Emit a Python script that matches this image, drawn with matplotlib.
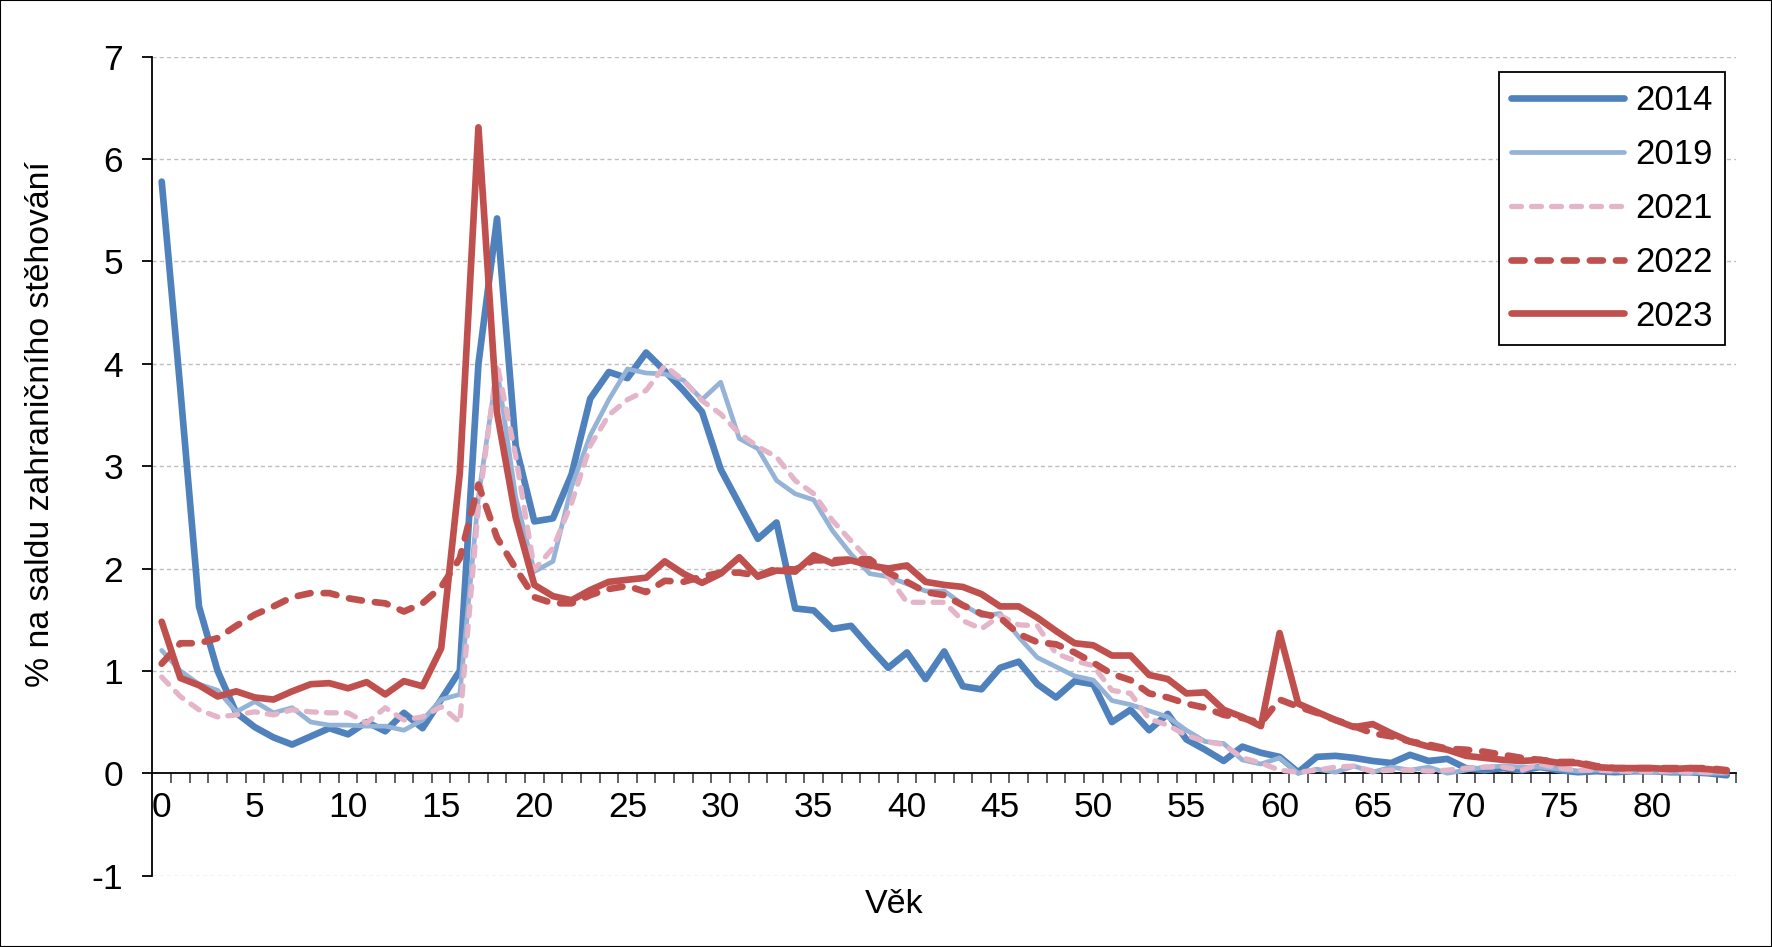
import numpy as np
import matplotlib
matplotlib.use("Agg")
import matplotlib.pyplot as plt
from matplotlib.patches import Rectangle

plt.rcParams['font.family'] = ['Liberation Sans', 'DejaVu Sans']
plt.rcParams['lines.scale_dashes'] = False
plt.rcParams['axes.unicode_minus'] = False

# 1. data: share (%) of the net foreign migration by age
ages = list(range(0, 85))
years = ['2014', '2019', '2021', '2022', '2023']

y2014 = [5.78, 3.75, 1.63, 1.0, 0.59, 0.45, 0.35, 0.28, 0.36, 0.44, 0.38, 0.5, 0.41, 0.59, 0.44, 0.72, 1.0,
         4.0, 5.42, 3.2, 2.46, 2.49, 2.92, 3.66, 3.92, 3.86, 4.11, 3.93, 3.74, 3.53,
         2.97, 2.63, 2.29, 2.45, 1.61, 1.59, 1.41, 1.44, 1.23, 1.03,
         1.18, 0.92, 1.19, 0.85, 0.82, 1.03, 1.09, 0.87, 0.74, 0.9,
         0.87, 0.5, 0.62, 0.42, 0.58, 0.33, 0.23, 0.12, 0.26, 0.2,
         0.16, 0.01, 0.16, 0.17, 0.15, 0.12, 0.1, 0.18, 0.12, 0.14,
         0.05, 0.03, 0.05, 0.03, 0.06, 0.03, 0.01, 0.02, 0.01, 0.02,
         0.02, 0.01, 0.01, 0.0, -0.02]
y2019 = [1.2, 1.0, 0.87, 0.81, 0.6, 0.7, 0.59, 0.64, 0.5, 0.47, 0.47, 0.46, 0.46, 0.42, 0.52, 0.72, 0.77,
         2.7, 3.95, 2.7, 1.97, 2.07, 2.8, 3.3, 3.65, 3.95, 3.91, 3.9, 3.84, 3.65,
         3.82, 3.27, 3.17, 2.86, 2.73, 2.67, 2.37, 2.14, 1.95, 1.92,
         1.85, 1.78, 1.78, 1.65, 1.54, 1.56, 1.33, 1.13, 1.04, 0.95,
         0.91, 0.71, 0.67, 0.61, 0.55, 0.42, 0.31, 0.29, 0.13, 0.09,
         0.15, 0.0, 0.04, 0.01, 0.07, 0.01, 0.06, 0.03, 0.06, 0.0,
         0.03, 0.06, 0.07, 0.06, 0.06, 0.04, 0.02, 0.03, 0.02, 0.02,
         0.01, 0.01, 0.01, 0.0, 0.0]
y2021 = [0.94, 0.75, 0.62, 0.55, 0.57, 0.6, 0.57, 0.62, 0.6, 0.59, 0.59, 0.49, 0.64, 0.52, 0.55, 0.65, 0.5,
         2.6, 4.0, 3.1, 1.99, 2.2, 2.64, 3.2, 3.5, 3.65, 3.74, 3.98, 3.84, 3.64,
         3.51, 3.32, 3.19, 3.09, 2.86, 2.73, 2.47, 2.27, 2.08, 1.92,
         1.67, 1.67, 1.67, 1.49, 1.41, 1.54, 1.45, 1.44, 1.17, 1.1,
         1.05, 0.81, 0.78, 0.53, 0.47, 0.37, 0.31, 0.28, 0.15, 0.1,
         0.03, 0.01, 0.03, 0.06, 0.07, 0.02, 0.03, 0.03, 0.02, 0.03,
         0.05, 0.06, 0.06, 0.03, 0.09, 0.05, 0.03, 0.03, 0.02, 0.02,
         0.02, 0.02, 0.01, 0.01, 0.01]
y2022 = [1.07, 1.27, 1.27, 1.32, 1.44, 1.55, 1.63, 1.72, 1.76, 1.76, 1.71, 1.68, 1.66, 1.58, 1.66, 1.82, 2.1,
         2.82, 2.3, 2.0, 1.72, 1.66, 1.66, 1.74, 1.8, 1.83, 1.77, 1.88, 1.87, 1.92,
         1.96, 1.96, 1.93, 2.0, 1.99, 2.08, 2.08, 2.09, 2.09, 1.96,
         1.87, 1.77, 1.74, 1.64, 1.56, 1.52, 1.36, 1.28, 1.26, 1.18,
         1.08, 0.97, 0.91, 0.78, 0.74, 0.68, 0.64, 0.57, 0.54, 0.49,
         0.72, 0.65, 0.59, 0.52, 0.46, 0.39, 0.36, 0.31, 0.28, 0.24,
         0.23, 0.21, 0.18, 0.15, 0.13, 0.11, 0.11, 0.07, 0.05, 0.05,
         0.05, 0.05, 0.05, 0.05, 0.03]
y2023 = [1.48, 0.93, 0.86, 0.75, 0.8, 0.74, 0.72, 0.8, 0.87, 0.88, 0.83, 0.89, 0.77, 0.9, 0.85, 1.22, 2.93,
         6.31, 3.52, 2.5, 1.84, 1.73, 1.69, 1.79, 1.87, 1.89, 1.91, 2.07, 1.95, 1.86,
         1.95, 2.11, 1.92, 1.98, 1.97, 2.13, 2.05, 2.08, 2.03, 2.0,
         2.03, 1.87, 1.84, 1.82, 1.75, 1.63, 1.63, 1.52, 1.39, 1.27,
         1.25, 1.15, 1.15, 0.96, 0.92, 0.78, 0.79, 0.62, 0.55, 0.46,
         1.37, 0.68, 0.6, 0.52, 0.45, 0.48, 0.39, 0.31, 0.26, 0.23,
         0.17, 0.15, 0.13, 0.12, 0.13, 0.1, 0.1, 0.06, 0.05, 0.05,
         0.05, 0.04, 0.05, 0.04, 0.02]

x_labels = [str(a) for a in range(0, 81, 5)]
y_ticks = list(range(-1, 8))

# 2. figure (1772 x 947 px)
fig = plt.figure(figsize=(17.72, 9.47), dpi=100)
fig.patches.append(Rectangle((0, 0), 1, 1, transform=fig.transFigure, fill=False,
                             edgecolor='black', linewidth=1.5, zorder=10))
ax = fig.add_axes([0.0860, 0.0754, 0.8937, 0.8647])

# series styles (Excel-like)
styles = {
    '2014': dict(color='#4F81BD', lw=4.8, dashes=None),
    '2019': dict(color='#95B3D7', lw=3.4, dashes=None),
    '2021': dict(color='#E4B4C8', lw=3.8, dashes=(7.2, 7.2)),
    '2022': dict(color='#C0504D', lw=4.8, dashes=(9.4, 9.4)),
    '2023': dict(color='#C0504D', lw=4.8, dashes=None),
}
series = {'2014': y2014, '2019': y2019, '2021': y2021, '2022': y2022, '2023': y2023}

for yr in years:
    st = styles[yr]
    line, = ax.plot(ages, series[yr], color=st['color'], lw=st['lw'], label=yr,
                    solid_capstyle='round', dash_capstyle='round',
                    solid_joinstyle='round', dash_joinstyle='round', zorder=3)
    if st['dashes'] is not None:
        line.set_dashes(st['dashes'])

# 3. axes
ax.set_xlim(-0.5, 84.5)
ax.set_ylim(-1, 7)
ax.spines['top'].set_visible(False)
ax.spines['right'].set_visible(False)
ax.spines['bottom'].set_position(('data', 0))
ax.spines['bottom'].set_linewidth(1.3)
ax.spines['left'].set_linewidth(1.3)

ax.set_xticks(range(0, 81, 5))
ax.set_xticklabels(x_labels)
ax.set_xticks(np.arange(0.5, 84.6, 1), minor=True)
ax.tick_params(axis='x', which='major', length=0, pad=12.5, labelsize=25.5)
ax.tick_params(axis='x', which='minor', length=7.2, width=1.3, color='#555555', direction='out')

ax.set_yticks(y_ticks)
ax.tick_params(axis='y', which='major', length=7.2, width=1.3, direction='out', pad=14, labelsize=25.5)

for yv in y_ticks:
    if yv != 0:
        ax.axhline(yv, color='#BFBFBF', lw=1.0, linestyle=(0, (3, 2.2)), zorder=1)

# axis titles
fig.text(894 / 1772, 1 - 904 / 947, 'Věk', ha='center', va='center', fontsize=24.5)
fig.text(41 / 1772, 1 - 424 / 947, '% na saldu zahraničního stěhování', ha='center', va='center',
         rotation=90, fontsize=24.3)

# legend
leg = ax.legend(loc='upper right', bbox_to_anchor=(1725 / 1772, 1 - 71.7 / 947),
                bbox_transform=fig.transFigure, fontsize=25, frameon=True, fancybox=False,
                framealpha=1, edgecolor='black', handlelength=3.25, handletextpad=0.32,
                labelspacing=0.6, borderpad=0.36, borderaxespad=0)
leg.get_frame().set_linewidth(1.3)

plt.savefig('out.png', dpi=100)
